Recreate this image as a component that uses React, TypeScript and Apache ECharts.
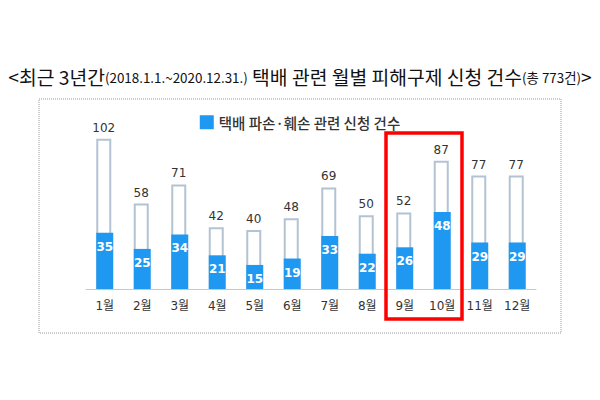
import React, { useEffect, useRef } from "react";
import * as echarts from "echarts";

const months = ["1월", "2월", "3월", "4월", "5월", "6월", "7월", "8월", "9월", "10월", "11월", "12월"];
const totalCounts = [102, 58, 71, 42, 40, 48, 69, 50, 52, 87, 77, 77];
const damageCounts = [35, 25, 34, 21, 15, 19, 33, 22, 26, 48, 29, 29];
const legendName = "택배 파손·훼손 관련 신청 건수";

const KR = "'Noto Sans CJK KR', sans-serif";
const NUM = "'DejaVu Sans', 'Noto Sans CJK KR', sans-serif";

export default function App() {
  const ref = useRef<HTMLDivElement>(null);
  useEffect(() => {
    if (!ref.current) return;
    const chart = echarts.init(ref.current, null, { renderer: "svg" });
    chart.setOption({
      animation: false,
      backgroundColor: "#ffffff",
      title: {
        text: "{b|<최근 3년간}{s|(2018.1.1.~2020.12.31.)}{b| 택배 관련 월별 피해구제 신청 건수}{s|(총 773건)}{b|>}",
        left: "center",
        top: 62,
        textStyle: {
          rich: {
            b: { fontSize: 19.3, fontFamily: KR, color: "#111", fontWeight: "normal" },
            s: { fontSize: 13.4, fontFamily: KR, color: "#111", fontWeight: "normal" },
          },
        },
      },
      legend: {
        data: [legendName],
        left: "center",
        top: 110,
        itemWidth: 14,
        itemHeight: 14,
        itemGap: 10,
        icon: "rect",
        textStyle: { fontSize: 14.5, fontFamily: KR, color: "#333", fontWeight: 500 },
      },
      grid: { left: 86, right: 64, top: 127, bottom: 111 },
      xAxis: {
        type: "category",
        data: months,
        axisTick: { show: false },
        axisLine: { lineStyle: { color: "#c8c8c8", width: 1 } },
        axisLabel: { fontSize: 12, fontFamily: NUM, color: "#333", margin: 11 },
      },
      yAxis: [
        { type: "value", min: 0, max: 110, show: false, splitLine: { show: false } },
        { type: "value", min: 0, max: 101, show: false, splitLine: { show: false } },
      ],
      series: [
        {
          name: "전체",
          type: "bar",
          yAxisIndex: 0,
          data: totalCounts,
          barWidth: 15,
          barGap: "-100%",
          itemStyle: { color: "#ffffff", borderColor: "#b4c3d2", borderWidth: 2 },
          label: {
            show: true,
            position: "top",
            distance: 5,
            fontSize: 12,
            fontFamily: NUM,
            color: "#333",
          },
          z: 2,
        },
        {
          name: legendName,
          type: "bar",
          yAxisIndex: 1,
          data: damageCounts,
          barWidth: 17,
          barGap: "-100%",
          itemStyle: { color: "#1e98f0" },
          label: {
            show: true,
            position: "insideTop",
            distance: 8,
            fontSize: 12,
            fontWeight: "bold",
            fontFamily: NUM,
            color: "#ffffff",
          },
          z: 3,
        },
      ],
      graphic: [
        {
          type: "rect",
          shape: { x: 39, y: 99, width: 522, height: 234 },
          style: { fill: "none", stroke: "#9a9a9a", lineWidth: 1, lineDash: [1, 1] },
          z: 0,
        },
        {
          type: "rect",
          shape: { x: 386, y: 133, width: 76, height: 186 },
          style: { fill: "none", stroke: "#ff0000", lineWidth: 3.5 },
          z: 10,
        },
      ],
    });
    return () => chart.dispose();
  }, []);
  return <div ref={ref} style={{ width: 600, height: 400, position: "absolute", left: 0, top: 0 }} />;
}
